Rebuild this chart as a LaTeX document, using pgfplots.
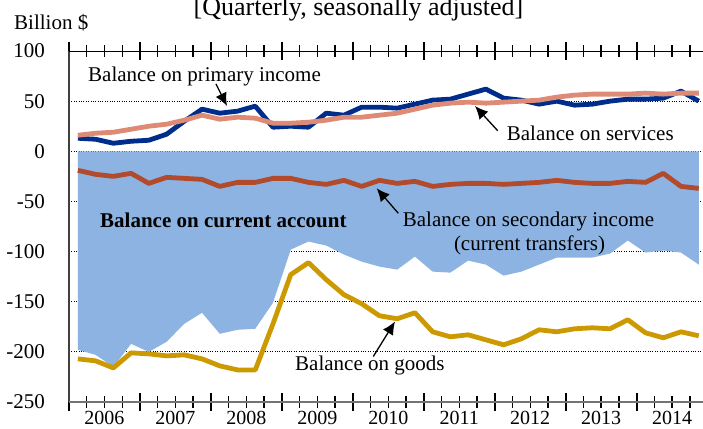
\documentclass[border=0pt]{standalone}
\usepackage{pgfplots}
\pgfplotsset{compat=1.18}
\usepackage{pgfplotstable}
\usepackage{fontspec}
\setmainfont{Liberation Serif}
\usetikzlibrary{arrows.meta}
\definecolor{areablue}{RGB}{141,179,226}
\definecolor{primblue}{RGB}{0,45,140}
\definecolor{servsalmon}{RGB}{222,139,118}
\definecolor{secrust}{RGB}{178,74,44}
\definecolor{goodsgold}{RGB}{204,153,0}

\pgfplotstableread{
x cur goods serv prim sec
2006.125 -198 -207 16 13 -19
2006.375 -203 -209 18 12 -23
2006.625 -215 -216 19 8 -25
2006.875 -192 -201 22 10 -22
2007.125 -200 -202 25 11 -32
2007.375 -190 -204 27 17 -26
2007.625 -172 -203 31 30 -27
2007.875 -161 -207 36 42 -28
2008.125 -182 -214 32 38 -35
2008.375 -178 -218 34 40 -31
2008.625 -177 -218 33 45 -31
2008.875 -151 -172 28 24 -27
2009.125 -98 -123 28 25 -27
2009.375 -90 -111 29 24 -31
2009.625 -94 -128 31 38 -33
2009.875 -103 -143 34 36 -29
2010.125 -110 -152 34 44 -35
2010.375 -115 -164 36 44 -29
2010.625 -118 -167 38 43 -32
2010.875 -105 -161 42 47 -30
2011.125 -120 -180 46 51 -35
2011.375 -121 -185 48 52 -33
2011.625 -109 -183 49 57 -32
2011.875 -113 -188 48 62 -32
2012.125 -124 -193 49 53 -33
2012.375 -120 -187 50 51 -32
2012.625 -113 -178 51 47 -31
2012.875 -106 -180 54 50 -29
2013.125 -106 -177 56 46 -31
2013.375 -106 -176 57 47 -32
2013.625 -102 -177 57 50 -32
2013.875 -89 -168 57 52 -30
2014.125 -101 -181 58 52 -31
2014.375 -99 -186 57 53 -22
2014.625 -101 -180 58 60 -35
2014.875 -113 -184 58 50 -37
}\data

\begin{document}
\begin{tikzpicture}[font=\fontsize{21bp}{25bp}\selectfont]
\begin{axis}[
  scale only axis, width=634bp, height=351bp,
  at={(0,0)}, anchor=south west,
  xmin=2006, xmax=2014.935, ymin=-250, ymax=100,
  axis line style={draw=none},
  ytick={-250,-200,-150,-100,-50,0,50,100},
  yticklabels={-250,-200,-150,-100,-50,0,50,100},
  ymajorgrids, grid style={dotted, black, line width=0.9bp},
  ytick style={draw=none},
  yticklabel style={font=\fontsize{21bp}{25bp}\selectfont, anchor=east, inner sep=0pt, xshift=-15bp},
  xtick={2006,2007,2008,2009,2010,2011,2012,2013,2014},
  xticklabels={},
  minor xtick={2006.25,2006.5,2006.75,2007.25,2007.5,2007.75,2008.25,2008.5,2008.75,2009.25,2009.5,2009.75,2010.25,2010.5,2010.75,2011.25,2011.5,2011.75,2012.25,2012.5,2012.75,2013.25,2013.5,2013.75,2014.25,2014.5,2014.75},
  tick align=center,
  major tick length=18bp, minor tick length=11bp,
  every major tick/.append style={line width=1.8bp, black},
  every minor tick/.append style={line width=1.4bp, black},
  extra x ticks={2006.5,2007.5,2008.5,2009.5,2010.5,2011.5,2012.5,2013.5,2014.5},
  extra x tick labels={2006,2007,2008,2009,2010,2011,2012,2013,2014},
  extra x tick style={major tick length=0pt},
  xticklabel style={font=\fontsize{20bp}{24bp}\selectfont, anchor=north, inner sep=0pt, yshift=-9bp},
]
\addplot[fill=areablue, draw=none] table[x=x,y=cur]{\data} \closedcycle;
\addplot[goodsgold, line width=4.8bp, line join=round] table[x=x,y=goods]{\data};
\addplot[secrust, line width=4.8bp, line join=round] table[x=x,y=sec]{\data};
\addplot[primblue, line width=4.8bp, line join=round] table[x=x,y=prim]{\data};
\addplot[servsalmon, line width=4.8bp, line join=round] table[x=x,y=serv]{\data};
\end{axis}
% axis frame lines
\draw[black!75, line width=1.5bp] (0,0) -- (0,351bp);
\draw[black!55, line width=2.2bp] (0,0) -- (634bp,0);
\draw[black, line width=0.9bp] (0,351bp) -- (634bp,351bp);
% texts
\node[anchor=base, inner sep=0pt, font=\fontsize{26bp}{30bp}\selectfont] at (289.5bp,386.5bp) {[Quarterly, seasonally adjusted]};
\node[anchor=base west, inner sep=0pt] at (-55bp,372.7bp) {Billion \$};
\node[anchor=base west, inner sep=0pt] at (19bp,320bp) {Balance on primary income};
\draw[line width=1.3bp, -{Latex[length=13bp,width=12bp]}] (147bp,318bp) -- (158bp,296bp);
\node[anchor=base west, inner sep=0pt] at (437.7bp,261bp) {Balance on services};
\draw[line width=1.3bp, -{Latex[length=13bp,width=12bp]}] (428.7bp,271.3bp) -- (406bp,296bp);
\node[anchor=base west, inner sep=0pt, font=\fontsize{21bp}{25bp}\selectfont\bfseries] at (31bp,174.5bp) {Balance on current account};
\node[anchor=base, inner sep=0pt] at (459.5bp,175bp) {Balance on secondary income};
\node[anchor=base, inner sep=0pt] at (460.5bp,151bp) {(current transfers)};
\draw[line width=1.3bp, -{Latex[length=13bp,width=12bp]}] (329.3bp,188.7bp) -- (307.7bp,213.7bp);
\node[anchor=base west, inner sep=0pt] at (226bp,32bp) {Balance on goods};
\draw[line width=1.3bp, -{Latex[length=13bp,width=12bp]}] (304.3bp,45.5bp) -- (326bp,80.5bp);
\pgfresetboundingbox
\useasboundingbox (-69bp,-27bp) rectangle (634bp,402bp);
\end{tikzpicture}
\end{document}
